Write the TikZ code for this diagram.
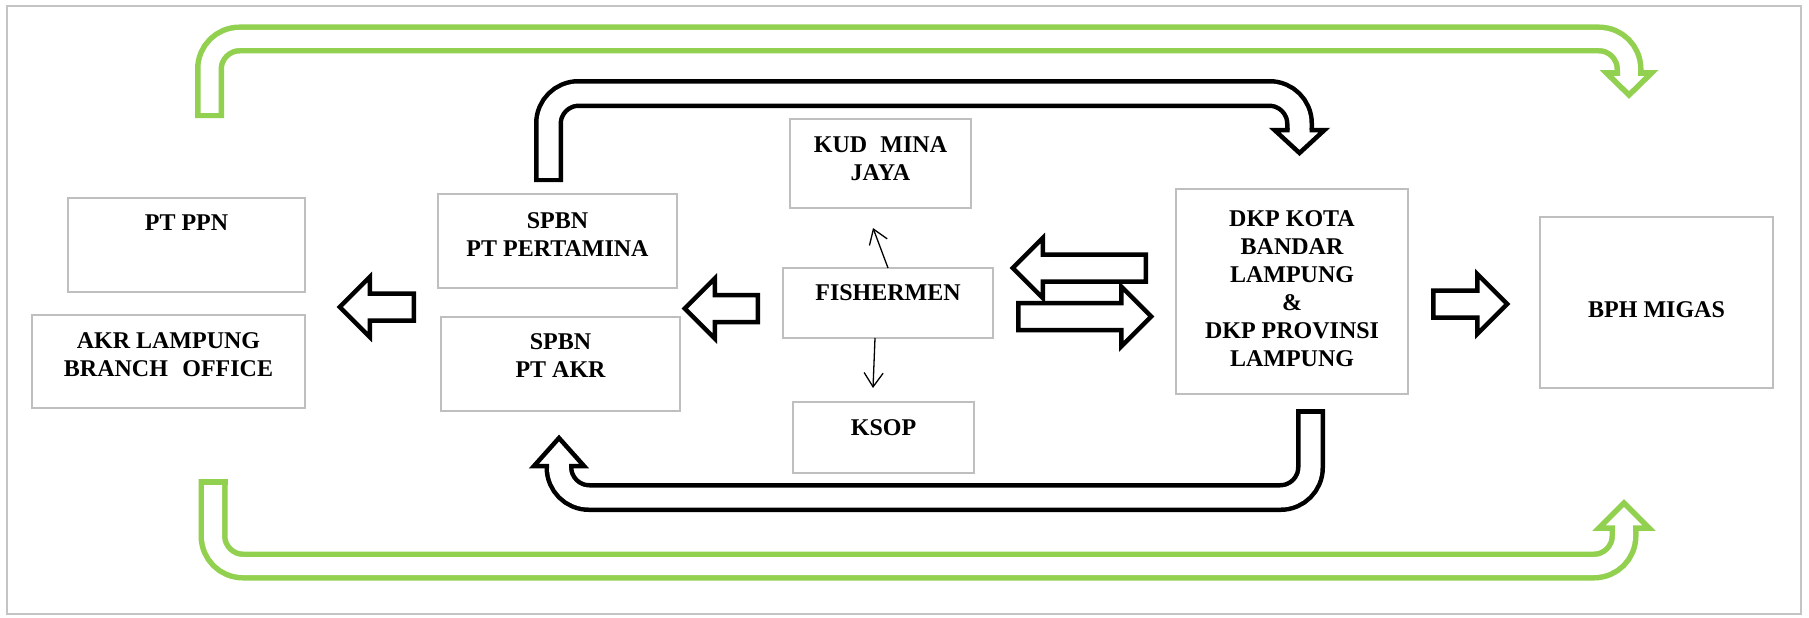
\documentclass[tikz,border=0pt]{standalone}
\usepackage{fontspec}
\setmainfont{Liberation Serif}
\usetikzlibrary{shapes.arrows,arrows.meta}
\definecolor{boxgray}{HTML}{BFBFBF}
\definecolor{framegray}{HTML}{C4C4C4}
\definecolor{flowgreen}{HTML}{92D050}
\begin{document}
\begin{tikzpicture}[x=1pt,y=-1pt,
	box/.style={draw=boxgray,line width=2pt,inner sep=0pt,outer sep=0pt},
	txt/.style={font=\bfseries\fontsize{24}{28}\selectfont,align=center},
	blockarrow/.style={single arrow,draw=black,fill=white,line width=4.5pt,line join=miter,minimum width=55.5pt,inner xsep=0pt,inner ysep=11.25pt,single arrow head extend=16.5pt,single arrow tip angle=90,outer sep=0pt,anchor=tail},
	bshaft/.style={draw=black,double=white,line width=4.5pt,double distance=20pt,rounded corners=30pt},
	gshaft/.style={draw=flowgreen,double=white,line width=5.5pt,double distance=18pt,rounded corners=30pt},
	bhead/.style={draw=black,fill=white,line width=4.5pt,line join=miter},
	ghead/.style={draw=flowgreen,fill=white,line width=5.5pt,line join=miter},
	thinarrow/.style={line width=1.3pt,-{Straight Barb[length=14pt,width=19pt]}}]
	% Frame
	\path[fill=white] (0,0) rectangle (1809,618);
	\draw[framegray,line width=2pt] (7,6) rectangle (1801,614);
	% Boxes
	\node[box,minimum width=237,minimum height=94,label={[txt,yshift=22]center:PT PPN}] (ppn) at (186.5,245) {};
	\node[box,minimum width=273,minimum height=93,label={[txt,yshift=7]center:AKR LAMPUNG\\BRANCH\hspace{0.6em}OFFICE}] (akrL) at (168.5,361.5) {};
	\node[box,minimum width=239,minimum height=94,label={[txt,yshift=6]center:SPBN\\PT PERTAMINA}] (pert) at (557.5,241) {};
	\node[box,minimum width=239,minimum height=94,label={[txt,yshift=8.5]center:SPBN\\PT AKR}] (spbnA) at (560.5,364) {};
	\node[box,minimum width=181,minimum height=89,label={[txt,yshift=5]center:KUD\hspace{0.55em}MINA\\JAYA}] (kud) at (880.5,163.5) {};
	\node[box,minimum width=210,minimum height=70,label={[txt,yshift=10.5]center:FISHERMEN}] (fish) at (888,303) {};
	\node[box,minimum width=181,minimum height=71,label={[txt,yshift=10]center:KSOP}] (ksop) at (883.5,437.5) {};
	\node[box,minimum width=232,minimum height=205,label={[txt,yshift=2.5]center:DKP KOTA\\BANDAR\\LAMPUNG\\\&\\DKP PROVINSI\\LAMPUNG}] (dkp) at (1292,291.5) {};
	\node[box,minimum width=233,minimum height=171,label={[txt,yshift=-7]center:BPH MIGAS}] (bph) at (1656.5,302.5) {};
	% Block arrows
	\node[blockarrow,minimum height=74,rotate=180] (toppn) at (413.75,307) {};
	\node[blockarrow,minimum height=73,rotate=180] (tospbn) at (757.75,308.5) {};
	\node[blockarrow,minimum height=133,rotate=180] (tofish) at (1145.75,268) {};
	\node[blockarrow,minimum height=133] (todkp) at (1018.25,316.5) {};
	\node[blockarrow,minimum height=74] (tobph) at (1433.25,304) {};
	% Black loop, top
	\coordinate (bt1) at ([xshift=-9,yshift=12]pert.north);
	\coordinate (bt2) at ([xshift=7.5,yshift=59]dkp.north);
	\draw[bshaft] (bt1) -- ++(0,-88.5) -| (bt2);
	\draw[line width=4.5pt] (bt1) ++(-14.5,-2.25) -- ++(29,0);
	\draw[bhead] ([xshift=-10]bt2) -- ++(-15,0) -- ++(25,23) -- ++(25,-23) -- ++(-15,0);
	% Black loop, bottom
	\coordinate (bb1) at ([xshift=18.5,yshift=-15]dkp.south);
	\coordinate (bb2) at ([xshift=-1.5,yshift=-55]spbnA.south);
	\draw[bshaft] (bb1) -- ++(0,88.5) -| (bb2);
	\draw[line width=4.5pt] (bb1) ++(-14.5,2.25) -- ++(29,0);
	\draw[bhead] ([xshift=-10]bb2) -- ++(-15,0) -- ++(25,-28) -- ++(25,28) -- ++(-15,0);
	% Green loop, top
	\coordinate (gt1) at ([xshift=23,yshift=80]ppn.north);
	\coordinate (gt2) at ([xshift=-27.5,yshift=144]bph.north);
	\draw[gshaft] (gt1) -- ++(0,-79) -| (gt2);
	\draw[flowgreen,line width=5.5pt] (gt1) ++(-14.5,-2.75) -- ++(29,0);
	\draw[ghead] ([xshift=-9]gt2) -- ++(-13.5,0) -- ++(22.5,22) -- ++(22.5,-22) -- ++(-13.5,0);
	% Green loop, bottom
	\coordinate (gb1) at ([xshift=44.5,yshift=-71]akrL.south);
	\coordinate (gb2) at ([xshift=-32.5,yshift=-140]bph.south);
	\draw[gshaft] (gb1) -- ++(0,87) -| (gb2);
	\draw[flowgreen,line width=5.5pt] (gb1) ++(-14.5,2.75) -- ++(29,0);
	\draw[ghead] ([xshift=-9]gb2) -- ++(-16,0) -- ++(25,-25) -- ++(25,25) -- ++(-16,0);
	% Fishermen links
	\draw[thinarrow] (fish.north) -- ([xshift=-7.5,yshift=-20]kud.south);
	\draw[thinarrow] ([xshift=-13]fish.south) -- ([xshift=-10.5,yshift=14]ksop.north);
\end{tikzpicture}
\end{document}
